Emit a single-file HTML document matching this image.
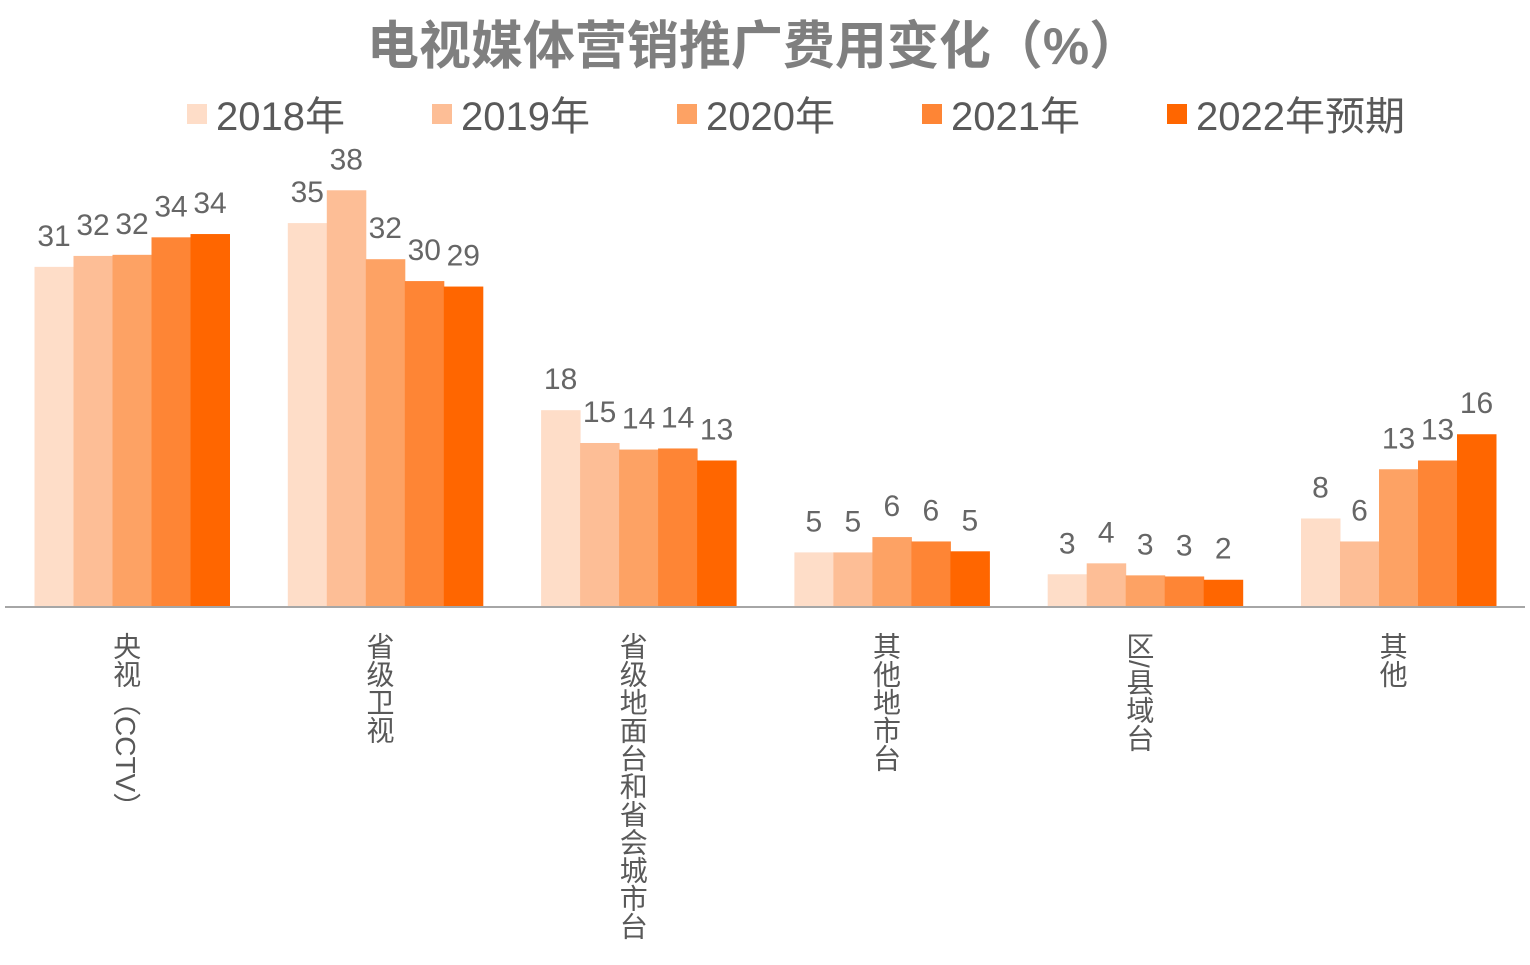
<!DOCTYPE html>
<html><head><meta charset="utf-8"><style>
body{margin:0;background:#fff;width:1530px;height:960px;overflow:hidden;font-family:"Liberation Sans","Noto Sans CJK SC",sans-serif;}
</style></head><body>
<svg id="chart" width="1530" height="960" xmlns="http://www.w3.org/2000/svg" font-family="Liberation Sans, Noto Sans CJK SC, sans-serif"></svg>
<script>
const categories=["央视（CCTV）","省级卫视","省级地面台和省会城市台","其他地市台","区/县域台","其他"];
const seriesNames=["2018年","2019年","2020年","2021年","2022年预期"];
const s2018=[31.0,35.0,17.9,4.9,2.9,8.0];
const s2019=[32.0,38.0,14.9,4.9,3.9,5.9];
const s2020=[32.1,31.7,14.3,6.3,2.8,12.5];
const s2021=[33.7,29.7,14.4,5.9,2.7,13.3];
const s2022=[34.0,29.2,13.3,5.0,2.4,15.7];
const series=[s2018,s2019,s2020,s2021,s2022];
const colors=["#FEDDC8","#FDBE96","#FDA264","#FE8535","#FF6600"];
const NS="http://www.w3.org/2000/svg";
const svg=document.getElementById('chart');
function mk(t,a,txt){const e=document.createElementNS(NS,t);for(const k in a)e.setAttribute(k,a[k]);if(txt!=null)e.textContent=txt;svg.appendChild(e);return e;}
const x0=5,gw=253.3,bw=39,base=606,scale=10.94;
const yS=v=>base-v*scale;
let t=mk('text',{x:754,y:64,'text-anchor':'middle','font-size':52,'font-weight':'bold',fill:'#7f7f7f'},'电视媒体营销推广费用变化（%）');


seriesNames.forEach((n,i)=>{
 const lx=187+i*245;
 const r=mk('rect',{x:lx,y:104,width:20,height:20,fill:colors[i]});
 
 
 const tx=mk('text',{x:lx+29,y:130,'font-size':40,fill:'#595959'},n);
 
 
});
categories.forEach((c,ci)=>{
 const gx=x0+gw*ci+29.5;
 series.forEach((s,si)=>{
  const v=s[ci];const x=gx+si*bw;
  const r=mk('rect',{x:x,y:yS(v),width:bw+0.5,height:base-yS(v),fill:colors[si]});
  
  
  const l=mk('text',{x:x+bw/2,y:yS(v)-21,'text-anchor':'middle','font-size':30,fill:'#666666'},String(Math.round(v)));
  
  
 });
 const cx=x0+gw*(ci+0.5)-6;
 const tl=mk('text',{x:cx,y:632,'font-size':28,fill:'#595959'},c);
 tl.setAttribute('style','writing-mode:vertical-rl');
 
 
});
const ax=mk('line',{x1:5,y1:607,x2:1525,y2:607,stroke:'#a6a6a6','stroke-width':2});


</script>
</body></html>
